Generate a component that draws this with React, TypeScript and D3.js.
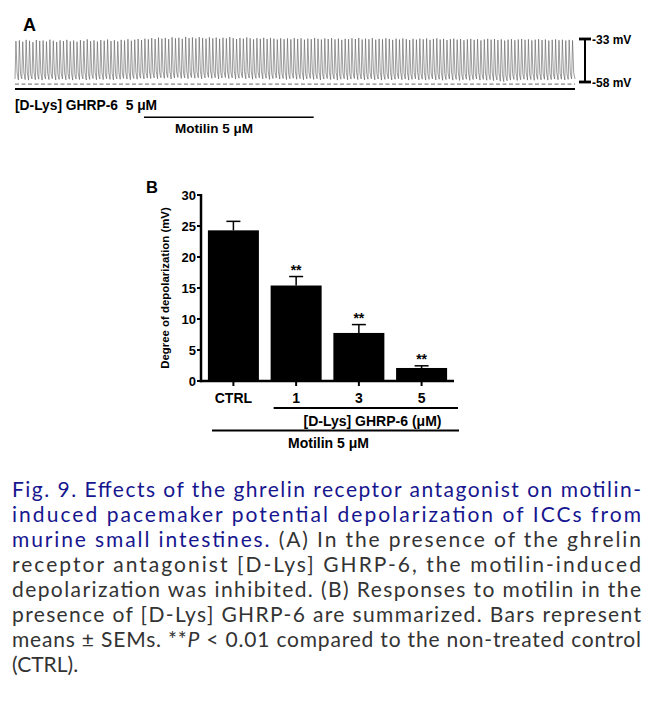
import React from "react";
import * as d3 from "d3";

// ---------- Panel A: pacemaker potential trace (mV), one value per cycle ----------
const tracePeaks: number[] = [
  -34.2, -33.8, -34.6, -33.5, -34.0, -34.8, -33.6, -34.1, -33.9, -34.5, -33.4, -34.0, -34.7, -33.8, -34.2, -33.5, -34.4, -33.9, -34.6, -33.7,
  -34.1, -33.2, -34.3, -33.8, -34.5, -33.6, -34.0, -33.3, -34.2, -33.7, -34.4, -33.5, -33.9, -33.1, -34.0, -33.4, -33.0, -33.6, -32.8, -33.2,
  -32.5, -33.0, -32.2, -32.8, -32.4, -33.1, -32.0, -32.6, -32.3, -32.9, -31.8, -32.5, -32.1, -32.7, -31.9, -32.4, -32.8, -32.0, -32.6, -32.2,
  -32.9, -32.3, -32.7, -31.9, -32.5, -33.0, -32.4, -32.8, -32.1, -32.6, -33.2, -32.5, -32.9, -32.3, -33.0, -32.4, -32.8, -33.3, -32.6, -33.1,
  -32.7, -33.2, -32.5, -33.0, -32.6, -33.4, -32.8, -33.1, -32.4, -32.9, -33.3, -32.7, -33.0, -32.5, -33.2, -32.8, -33.5, -32.9, -33.1, -32.6,
  -33.0, -32.4, -33.3, -32.8, -33.1, -32.5, -33.4, -32.9, -33.2, -32.6, -33.0, -33.5, -32.8, -33.3, -32.7, -33.1, -33.6, -32.9, -33.4, -32.8,
  -33.2, -32.7, -33.5, -33.0, -32.6, -33.3, -32.9, -33.6, -33.1, -32.8, -33.4, -33.0, -33.7, -33.2, -32.9, -33.5, -33.1, -33.8, -33.3, -32.9,
  -33.4, -33.0, -33.6, -33.2, -33.9, -33.4, -33.1, -33.7, -33.3, -33.0, -33.5, -33.2, -33.8, -33.4, -33.1, -33.6, -33.3, -33.9, -33.5, -33.2,
  -33.7, -33.4, -33.9, -33.5, -33.8,
];
const traceTroughs: number[] = [
  -56.3, -56.8, -56.1, -56.6, -56.9, -56.2, -56.7, -56.4, -56.9, -56.3, -56.6, -56.1, -56.8, -56.5, -56.2, -56.7, -56.4, -56.9, -56.3, -56.6,
  -56.2, -56.8, -56.5, -56.0, -56.7, -56.3, -56.6, -56.1, -56.5, -56.8, -56.2, -56.4, -55.9, -56.3, -56.6, -56.0, -56.4, -55.8, -56.2, -55.7,
  -56.0, -55.6, -56.1, -55.5, -55.9, -55.4, -56.2, -55.7, -55.3, -55.9, -55.6, -56.0, -55.4, -55.8, -55.5, -56.1, -55.6, -55.3, -55.9, -55.5,
  -56.2, -55.7, -55.4, -56.0, -55.6, -56.3, -55.8, -55.5, -56.1, -55.7, -56.4, -55.9, -55.6, -56.2, -55.8, -56.5, -56.0, -55.7, -56.3, -55.9,
  -56.6, -56.1, -55.8, -56.4, -56.0, -56.7, -56.2, -55.9, -56.5, -56.1, -56.8, -56.3, -56.0, -56.6, -56.2, -56.9, -56.4, -56.1, -56.7, -56.3,
  -56.0, -56.6, -56.2, -56.8, -56.4, -56.1, -56.7, -56.3, -56.9, -56.5, -56.2, -56.8, -56.4, -56.1, -56.7, -56.3, -56.9, -56.5, -56.2, -56.8,
  -56.4, -56.9, -56.5, -56.2, -56.8, -56.4, -57.0, -56.6, -56.3, -56.9, -56.5, -57.1, -56.7, -56.4, -57.0, -56.6, -56.3, -56.9, -56.5, -57.0,
  -56.6, -57.2, -56.8, -57.5, -57.8, -57.3, -56.9, -56.5, -57.1, -56.7, -56.4, -56.9, -56.6, -57.0, -56.5, -56.8, -56.4, -56.9, -56.6, -56.3,
  -56.7, -56.4, -56.8, -56.5, -56.2,
];
const scaleBarLevels: number[] = [-33, -58];
const scaleBarLabels: string[] = ["-33 mV", "-58 mV"];
const restingLevel = -59.2;
const motilinStartCycle = 38;
const motilinEndCycle = 88;

// ---------- Panel B: bar chart ----------
const categories: string[] = ["CTRL", "1", "3", "5"];
const meanValues: number[] = [24.3, 15.4, 7.75, 2.1];
const semValues: number[] = [1.45, 1.45, 1.35, 0.35];
const significance: string[] = ["", "**", "**", "**"];
const yTicks: number[] = [0, 5, 10, 15, 20, 25, 30];
const yLabel = "Degree of depolarization (mV)";
const drugLabel = "[D-Lys] GHRP-6 (μM)";
const motilinLabel = "Motilin 5 μM";

// ---------- Caption ----------
const captionLines: { parts: { t: string; blue?: boolean; italic?: boolean }[]; justify: boolean }[] = [
  { parts: [{ t: "Fig. 9. Effects of the ghrelin receptor antagonist on motilin-", blue: true }], justify: true },
  { parts: [{ t: "induced pacemaker potential depolarization of ICCs from", blue: true }], justify: true },
  { parts: [{ t: "murine small intestines.", blue: true }, { t: " (A) In the presence of the ghrelin" }], justify: true },
  { parts: [{ t: "receptor antagonist [D-Lys] GHRP-6, the motilin-induced" }], justify: true },
  { parts: [{ t: "depolarization was inhibited. (B) Responses to motilin in the" }], justify: true },
  { parts: [{ t: "presence of [D-Lys] GHRP-6 are summarized. Bars represent" }], justify: true },
  { parts: [{ t: "means ± SEMs. **" }, { t: "P", italic: true }, { t: " < 0.01 compared to the non-treated control" }], justify: true },
  { parts: [{ t: "(CTRL)." }], justify: false },
];

const ARIAL = "'Liberation Sans', Arial, Helvetica, sans-serif";
const CAPFONT = "Lato, 'Noto Sans', sans-serif";

export default function App() {
  // Panel A scales
  const nCycles = tracePeaks.length;
  const xT = d3.scaleLinear().domain([0, nCycles]).range([15, 575]);
  const yT = d3.scaleLinear().domain([-33, -58]).range([39, 82]);

  const pts: [number, number][] = [];
  for (let i = 0; i < nCycles; i++) {
    const p = tracePeaks[i];
    const tr = traceTroughs[i];
    pts.push([i, tr]);
    pts.push([i + 0.28, p]);
    pts.push([i + 0.62, tr + 0.16 * (p - tr)]);
    pts.push([i + 0.8, tr + 0.08 * (p - tr)]);
  }
  pts.push([nCycles, traceTroughs[nCycles - 1]]);
  const traceLine = d3
    .line<[number, number]>()
    .x((d) => xT(d[0]))
    .y((d) => yT(d[1]));
  const tracePath = traceLine(pts) || "";

  // Panel B scales
  const xB = d3.scaleBand<string>().domain(categories).range([201, 454]).paddingInner(0.187).paddingOuter(0.11);
  const yB = d3.scaleLinear().domain([0, 30]).range([381, 195]);
  const bw = xB.bandwidth();
  const cx = (c: string) => (xB(c) as number) + bw / 2;

  const capW = 14;

  return (
    <svg
      width={654}
      height={728}
      viewBox="0 0 654 728"
      style={{ position: "absolute", left: 0, top: 0, background: "#fff" }}
    >
      <rect x={0} y={0} width={654} height={728} fill="#fff" />
      {/* ===== Panel A ===== */}
      <text x={23} y={31} fontFamily={ARIAL} fontWeight="bold" fontSize={18} fill="#000">
        A
      </text>
      <path d={tracePath} fill="none" stroke="#5a5a5a" strokeWidth={0.6} strokeLinejoin="miter" />
      <line
        x1={xT(0)}
        x2={xT(nCycles)}
        y1={yT(restingLevel)}
        y2={yT(restingLevel)}
        stroke="#888"
        strokeWidth={1.2}
        strokeDasharray="4,2.5"
      />
      <line x1={xT(0)} x2={xT(nCycles)} y1={89} y2={89} stroke="#000" strokeWidth={2} />
      <text x={15} y={109.5} fontFamily={ARIAL} fontWeight="bold" fontSize={13.8} fill="#000" xmlSpace="preserve">
        [D-Lys] GHRP-6  5 μM
      </text>
      <line x1={xT(motilinStartCycle)} x2={xT(motilinEndCycle)} y1={117.3} y2={117.3} stroke="#000" strokeWidth={1.6} />
      <text x={175} y={132.7} fontFamily={ARIAL} fontWeight="bold" fontSize={13.5} fill="#000">
        Motilin 5 μM
      </text>
      {/* scale bar */}
      <line x1={585} x2={585} y1={yT(scaleBarLevels[0])} y2={yT(scaleBarLevels[1])} stroke="#000" strokeWidth={2} />
      {scaleBarLevels.map((v, i) => (
        <g key={i}>
          <line x1={579} x2={591} y1={yT(v)} y2={yT(v)} stroke="#000" strokeWidth={2.8} />
          <text x={592} y={yT(v) + 5} fontFamily={ARIAL} fontWeight="bold" fontSize={12} fill="#000">
            {scaleBarLabels[i]}
          </text>
        </g>
      ))}

      {/* ===== Panel B ===== */}
      <text x={146} y={193} fontFamily={ARIAL} fontWeight="bold" fontSize={16.5} fill="#000">
        B
      </text>
      {categories.map((c, i) => (
        <rect key={c} x={xB(c)} y={yB(meanValues[i])} width={bw} height={yB(0) - yB(meanValues[i])} fill="#000" />
      ))}
      {categories.map((c, i) => (
        <g key={"e" + c}>
          <line
            x1={cx(c)}
            x2={cx(c)}
            y1={yB(meanValues[i])}
            y2={yB(meanValues[i] + semValues[i])}
            stroke="#000"
            strokeWidth={1.5}
          />
          <line
            x1={cx(c) - capW / 2}
            x2={cx(c) + capW / 2}
            y1={yB(meanValues[i] + semValues[i])}
            y2={yB(meanValues[i] + semValues[i])}
            stroke="#000"
            strokeWidth={1.5}
          />
          {significance[i] && (
            <text
              x={cx(c)}
              y={yB(meanValues[i] + semValues[i]) - 1.5}
              textAnchor="middle"
              fontFamily={ARIAL}
              fontWeight="bold"
              fontSize={14}
              fill="#000"
            >
              {significance[i]}
            </text>
          )}
        </g>
      ))}
      <line x1={201} x2={201} y1={yB(30) - 1} y2={yB(0) + 1.2} stroke="#000" strokeWidth={2.5} />
      {yTicks.map((t) => (
        <g key={"yt" + t}>
          <line x1={197} x2={201} y1={yB(t)} y2={yB(t)} stroke="#000" strokeWidth={2} />
          <text
            x={196}
            y={yB(t) + 4.6}
            textAnchor="end"
            fontFamily={ARIAL}
            fontWeight="bold"
            fontSize={13}
            fill="#000"
          >
            {t}
          </text>
        </g>
      ))}
      <line x1={199.75} x2={454} y1={yB(0)} y2={yB(0)} stroke="#000" strokeWidth={2.5} />
      {categories.map((c) => (
        <g key={"xt" + c}>
          <line x1={cx(c)} x2={cx(c)} y1={yB(0)} y2={yB(0) + 5} stroke="#000" strokeWidth={2} />
          <text x={cx(c)} y={402.7} textAnchor="middle" fontFamily={ARIAL} fontWeight="bold" fontSize={14} fill="#000">
            {c}
          </text>
        </g>
      ))}
      <text
        transform={`translate(168.5, ${(yB(0) + yB(30)) / 2}) rotate(-90)`}
        textAnchor="middle"
        fontFamily={ARIAL}
        fontWeight="bold"
        fontSize={11.4}
        fill="#000"
      >
        {yLabel}
      </text>
      <line x1={(xB("1") as number) + 3} x2={458} y1={408} y2={408} stroke="#000" strokeWidth={2} />
      <text x={372.5} y={426} textAnchor="middle" fontFamily={ARIAL} fontWeight="bold" fontSize={14} fill="#000">
        {drugLabel}
      </text>
      <line x1={212} x2={459} y1={430.5} y2={430.5} stroke="#000" strokeWidth={2} />
      <text x={288} y={447.5} fontFamily={ARIAL} fontWeight="bold" fontSize={14} fill="#000">
        {motilinLabel}
      </text>

      {/* ===== Caption ===== */}
      {captionLines.map((ln, i) => (
        <text
          key={"cap" + i}
          x={12}
          y={496.7 + i * 25}
          fontFamily={CAPFONT}
          fontSize={21}
          fill="#333"
          xmlSpace="preserve"
          {...(ln.justify ? { textLength: 629, lengthAdjust: "spacing" } : {})}
        >
          {ln.parts.map((p, j) => (
            <tspan key={j} fill={p.blue ? "#16168f" : "#333"} fontStyle={p.italic ? "italic" : "normal"}>
              {p.t}
            </tspan>
          ))}
        </text>
      ))}
    </svg>
  );
}
